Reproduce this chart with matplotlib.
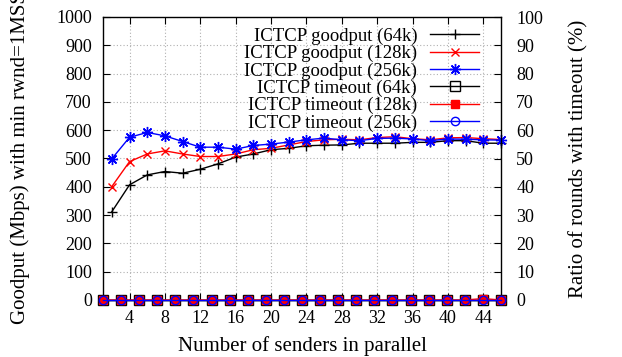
import matplotlib
matplotlib.use('Agg')
import matplotlib.pyplot as plt

plt.rcParams['font.family'] = ['Liberation Serif', 'DejaVu Serif']
plt.rcParams['font.size'] = 13

# number of senders (goodput on x1, timeout on x2)
senders = [2, 4, 6, 8, 10, 12, 14, 16, 18, 20, 22, 24,
           26, 28, 30, 32, 34, 36, 38, 40, 42, 44, 46]

# goodput (Mbps)
gp_64k = [312, 407, 442, 454, 448, 462, 481, 505, 516, 531, 536, 545,
          547, 548, 554, 554, 554, 557, 557, 563, 563, 554, 554]
gp_128k = [401, 489, 516, 527, 516, 507, 507, 516, 531, 536, 548, 560,
           566, 568, 566, 574, 577, 570, 566, 573, 574, 570, 567]
gp_256k = [499, 575, 592, 580, 560, 540, 540, 533, 546, 551, 558, 566,
           572, 566, 563, 571, 572, 569, 563, 569, 568, 566, 565]

# ratio of rounds with timeout (%)
to_64k = [0] * 23
to_128k = [0] * 21 + [0.5, 0]
to_256k = [0] * 23

labels = ['ICTCP goodput (64k)', 'ICTCP goodput (128k)', 'ICTCP goodput (256k)',
          'ICTCP timeout (64k)', 'ICTCP timeout (128k)', 'ICTCP timeout (256k)']

fig = plt.figure(figsize=(6.22, 3.57), dpi=100)
pos = [103 / 622, 1 - 300 / 357, 398 / 622, 283 / 357]
ax = fig.add_axes(pos)
ax2 = fig.add_axes(pos, frameon=False)

red = '#ff0000'
blue = '#0000ff'

h1, = ax.plot(senders, gp_64k, color='black', lw=1, marker='+', ms=7, mew=1, clip_on=False)
h2, = ax.plot(senders, gp_128k, color=red, lw=1, marker='x', ms=6, mew=1, clip_on=False)
h3, = ax.plot(senders, gp_256k, color=blue, lw=1, marker=(8, 2, 0), ms=8, mew=1, clip_on=False)

h4, = ax2.plot(senders, to_64k, color='black', lw=1, marker='s', ms=6.5, mfc='none', mew=1, clip_on=False)
h5, = ax2.plot(senders, to_128k, color=red, lw=1, marker='s', ms=6, clip_on=False)
h6, = ax2.plot(senders, to_256k, color=blue, lw=1, marker='o', ms=6, mfc='none', mew=1, clip_on=False)

ax.set_xlim(1, 46)
ax.set_ylim(0, 1000)
ax.set_xticks(range(4, 45, 4))
ax.set_yticks(range(0, 1001, 100))
ax.grid(True, color='#b0b0b0', linestyle=(0, (1, 2)), lw=0.8)
ax.tick_params(direction='in', length=5, top=True, right=False, width=0.8)
ax.tick_params(axis='y', pad=8)
ax.tick_params(axis='x', pad=7)
ax.set_xlabel('Number of senders in parallel', fontsize=15, labelpad=7)
ax.set_ylabel('Goodput (Mbps) with min rwnd=1MSS', fontsize=15, labelpad=19)

ax2.set_xlim(2, 46)
ax2.set_ylim(0, 100)
ax2.set_yticks(range(0, 101, 10))
ax2.xaxis.set_visible(False)
ax2.yaxis.tick_right()
ax2.yaxis.set_label_position('right')
ax2.tick_params(direction='in', length=5, width=0.8, pad=11)
ax2.set_ylabel('Ratio of rounds with timeout (%)', fontsize=15, labelpad=19)

for s in ax.spines.values():
    s.set_linewidth(1)

ax2.legend([h1, h2, h3, h4, h5, h6], labels, loc='upper right',
           bbox_to_anchor=(0.945, 0.962), frameon=False, markerfirst=False,
           labelspacing=0.0, handlelength=2.6, handletextpad=0.7,
           borderpad=0, borderaxespad=0, fontsize=13.5)

fig.savefig('out.png', dpi=100)
